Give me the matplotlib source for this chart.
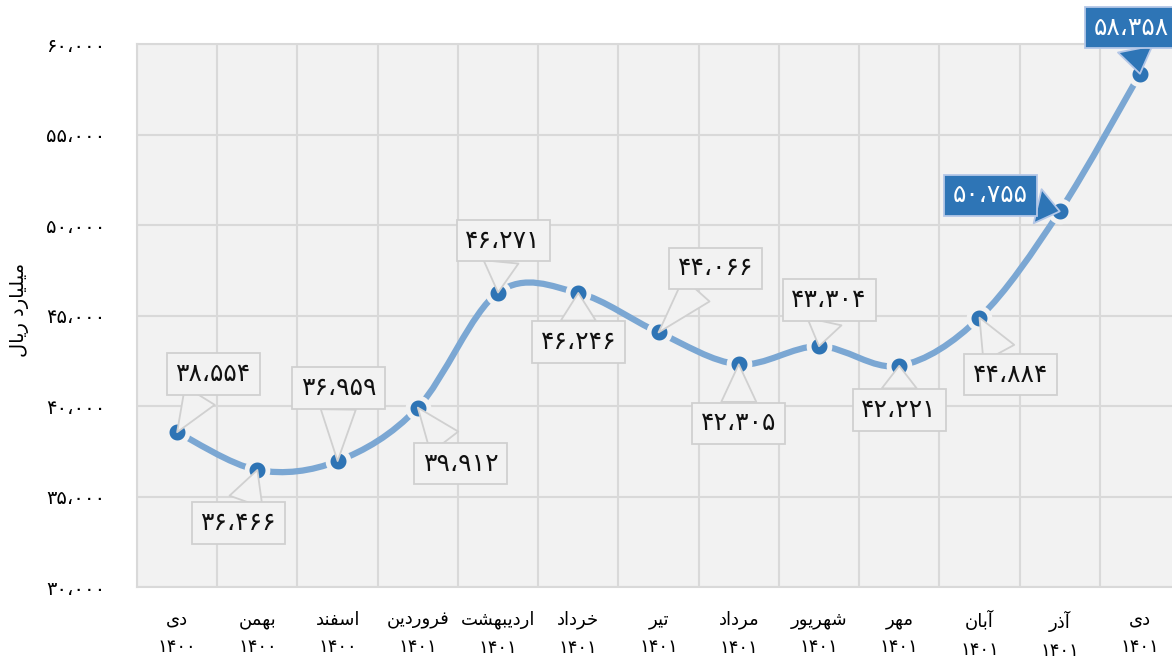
import matplotlib
matplotlib.use("Agg")
import matplotlib.pyplot as plt
from matplotlib.path import Path
from matplotlib.patches import PathPatch
import numpy as np

plt.rcParams['font.family'] = ['DejaVu Sans']

months = ['دی', 'بهمن', 'اسفند', 'فروردین', 'اردیبهشت', 'خرداد', 'تیر',
          'مرداد', 'شهریور', 'مهر', 'آبان', 'آذر', 'دی']
years = ['1400', '1400', '1400', '1401', '1401', '1401', '1401',
         '1401', '1401', '1401', '1401', '1401', '1401']
values = [38554, 36466, 36959, 39912, 46271, 46246, 44066,
          42305, 43304, 42221, 44884, 50755, 58358]
y_label = 'میلیارد ریال'

# label offsets in pixels (dx, dy) from the point to the box
offsets = [(36, 58), (-19, -53), (1, 73), (43, -56), (5, 52), (0, -49), (57, 64),
           (0, -59), (10, 46), (0, -44), (31, -57), (-69, 16), (-9, 46)]
highlight = [11, 12]

# --- minimal arabic shaping (matplotlib has no complex text layout) ---
FORMS = {
    'ا': (0xFE8D, 0xFE8E, None, None), 'آ': (0xFE81, 0xFE82, None, None),
    'ب': (0xFE8F, 0xFE90, 0xFE91, 0xFE92), 'ت': (0xFE95, 0xFE96, 0xFE97, 0xFE98),
    'خ': (0xFEA5, 0xFEA6, 0xFEA7, 0xFEA8), 'د': (0xFEA9, 0xFEAA, None, None),
    'ذ': (0xFEAB, 0xFEAC, None, None), 'ر': (0xFEAD, 0xFEAE, None, None),
    'س': (0xFEB1, 0xFEB2, 0xFEB3, 0xFEB4), 'ش': (0xFEB5, 0xFEB6, 0xFEB7, 0xFEB8),
    'ف': (0xFED1, 0xFED2, 0xFED3, 0xFED4), 'ل': (0xFEDD, 0xFEDE, 0xFEDF, 0xFEE0),
    'م': (0xFEE1, 0xFEE2, 0xFEE3, 0xFEE4), 'ن': (0xFEE5, 0xFEE6, 0xFEE7, 0xFEE8),
    'ه': (0xFEE9, 0xFEEA, 0xFEEB, 0xFEEC), 'و': (0xFEED, 0xFEEE, None, None),
    'ی': (0xFEEF, 0xFEF0, 0xFEF3, 0xFEF4),
}


def shape(text):
    out = []
    for i, ch in enumerate(text):
        if ch not in FORMS:
            out.append(ch)
            continue
        prev = text[i - 1] if i > 0 else ''
        nxt = text[i + 1] if i + 1 < len(text) else ''
        join_prev = prev in FORMS and FORMS[prev][2] is not None
        join_next = FORMS[ch][2] is not None and nxt in FORMS
        iso, fin, ini, med = FORMS[ch]
        if join_prev and join_next:
            cp = med
        elif join_prev:
            cp = fin
        elif join_next:
            cp = ini
        else:
            cp = iso
        out.append(chr(cp))
    return ''.join(out)[::-1]


PDIG = str.maketrans('0123456789,', '۰۱۲۳۴۵۶۷۸۹،')


def fa_num(v):
    return f'{v:,}'.translate(PDIG)


fig = plt.figure(figsize=(11.72, 6.66), dpi=100)
ax = fig.add_axes([0.1169, 0.1186, 0.890, 0.8153])
ax.set_facecolor('#f2f2f2')

x = np.arange(len(values))
y = np.array(values, dtype=float)

# smoothed line through the points (cubic bezier, catmull-rom tangents)
verts = [(x[0], y[0])]
codes = [Path.MOVETO]
n = len(x)
for i in range(n - 1):
    p0 = np.array([x[max(i - 1, 0)], y[max(i - 1, 0)]])
    p1 = np.array([x[i], y[i]])
    p2 = np.array([x[i + 1], y[i + 1]])
    p3 = np.array([x[min(i + 2, n - 1)], y[min(i + 2, n - 1)]])
    c1 = p1 + (p2 - p0) / 6
    c2 = p2 - (p3 - p1) / 6
    verts += [tuple(c1), tuple(c2), tuple(p2)]
    codes += [Path.CURVE4] * 3
ax.add_patch(PathPatch(Path(verts, codes), fc='none', ec='#7ba7d3', lw=4.5,
                       capstyle='butt', zorder=3))
ax.plot(x, y, ls='none', marker='o', ms=15, mfc='#2e74b5', mec='#f2f2f2',
        mew=3.5, zorder=4)

for i, (v, (dx, dy)) in enumerate(zip(values, offsets)):
    hl = i in highlight
    fc = '#2e75b6' if hl else '#f2f2f2'
    ec = '#b4c7e7' if hl else '#d0d0d0'
    ax.annotate(fa_num(v), xy=(x[i], v), xytext=(dx, dy), textcoords='offset pixels',
                ha='center', va='center', fontsize=18,
                color='white' if hl else '#111111',
                bbox=dict(boxstyle='square,pad=0.35', fc=fc, ec=ec, lw=1.3),
                arrowprops=dict(arrowstyle='wedge,tail_width=1.4,shrink_factor=0.5',
                                fc=fc, ec=ec, lw=1.3, shrinkA=0, shrinkB=0),
                zorder=5, annotation_clip=False)

ax.set_xlim(-0.5, len(values) - 0.5)
ax.set_ylim(30000, 60000)
ax.set_yticks(range(30000, 60001, 5000))
ax.set_yticklabels([fa_num(t) for t in range(30000, 60001, 5000)], fontsize=14)
ax.set_xticks(x)
ax.set_xticklabels([shape(m) + '\n' + yr.translate(PDIG) for m, yr in zip(months, years)],
                   fontsize=13, linespacing=1.7)
ax.set_xticks(x - 0.5, minor=True)
ax.tick_params(axis='both', which='both', length=0)
ax.tick_params(axis='x', pad=17)
ax.tick_params(axis='y', pad=23)
ax.grid(True, which='minor', axis='x', color='#d9d9d9', lw=1.5)
ax.grid(True, which='major', axis='y', color='#d9d9d9', lw=1.5)
ax.set_axisbelow(True)
for s in ax.spines.values():
    s.set_color('#d9d9d9')
    s.set_linewidth(1.5)

fig.text(0.017, 0.535, shape(y_label), rotation=90, fontsize=14, ha='center', va='center')

fig.savefig('out.png', dpi=100)
